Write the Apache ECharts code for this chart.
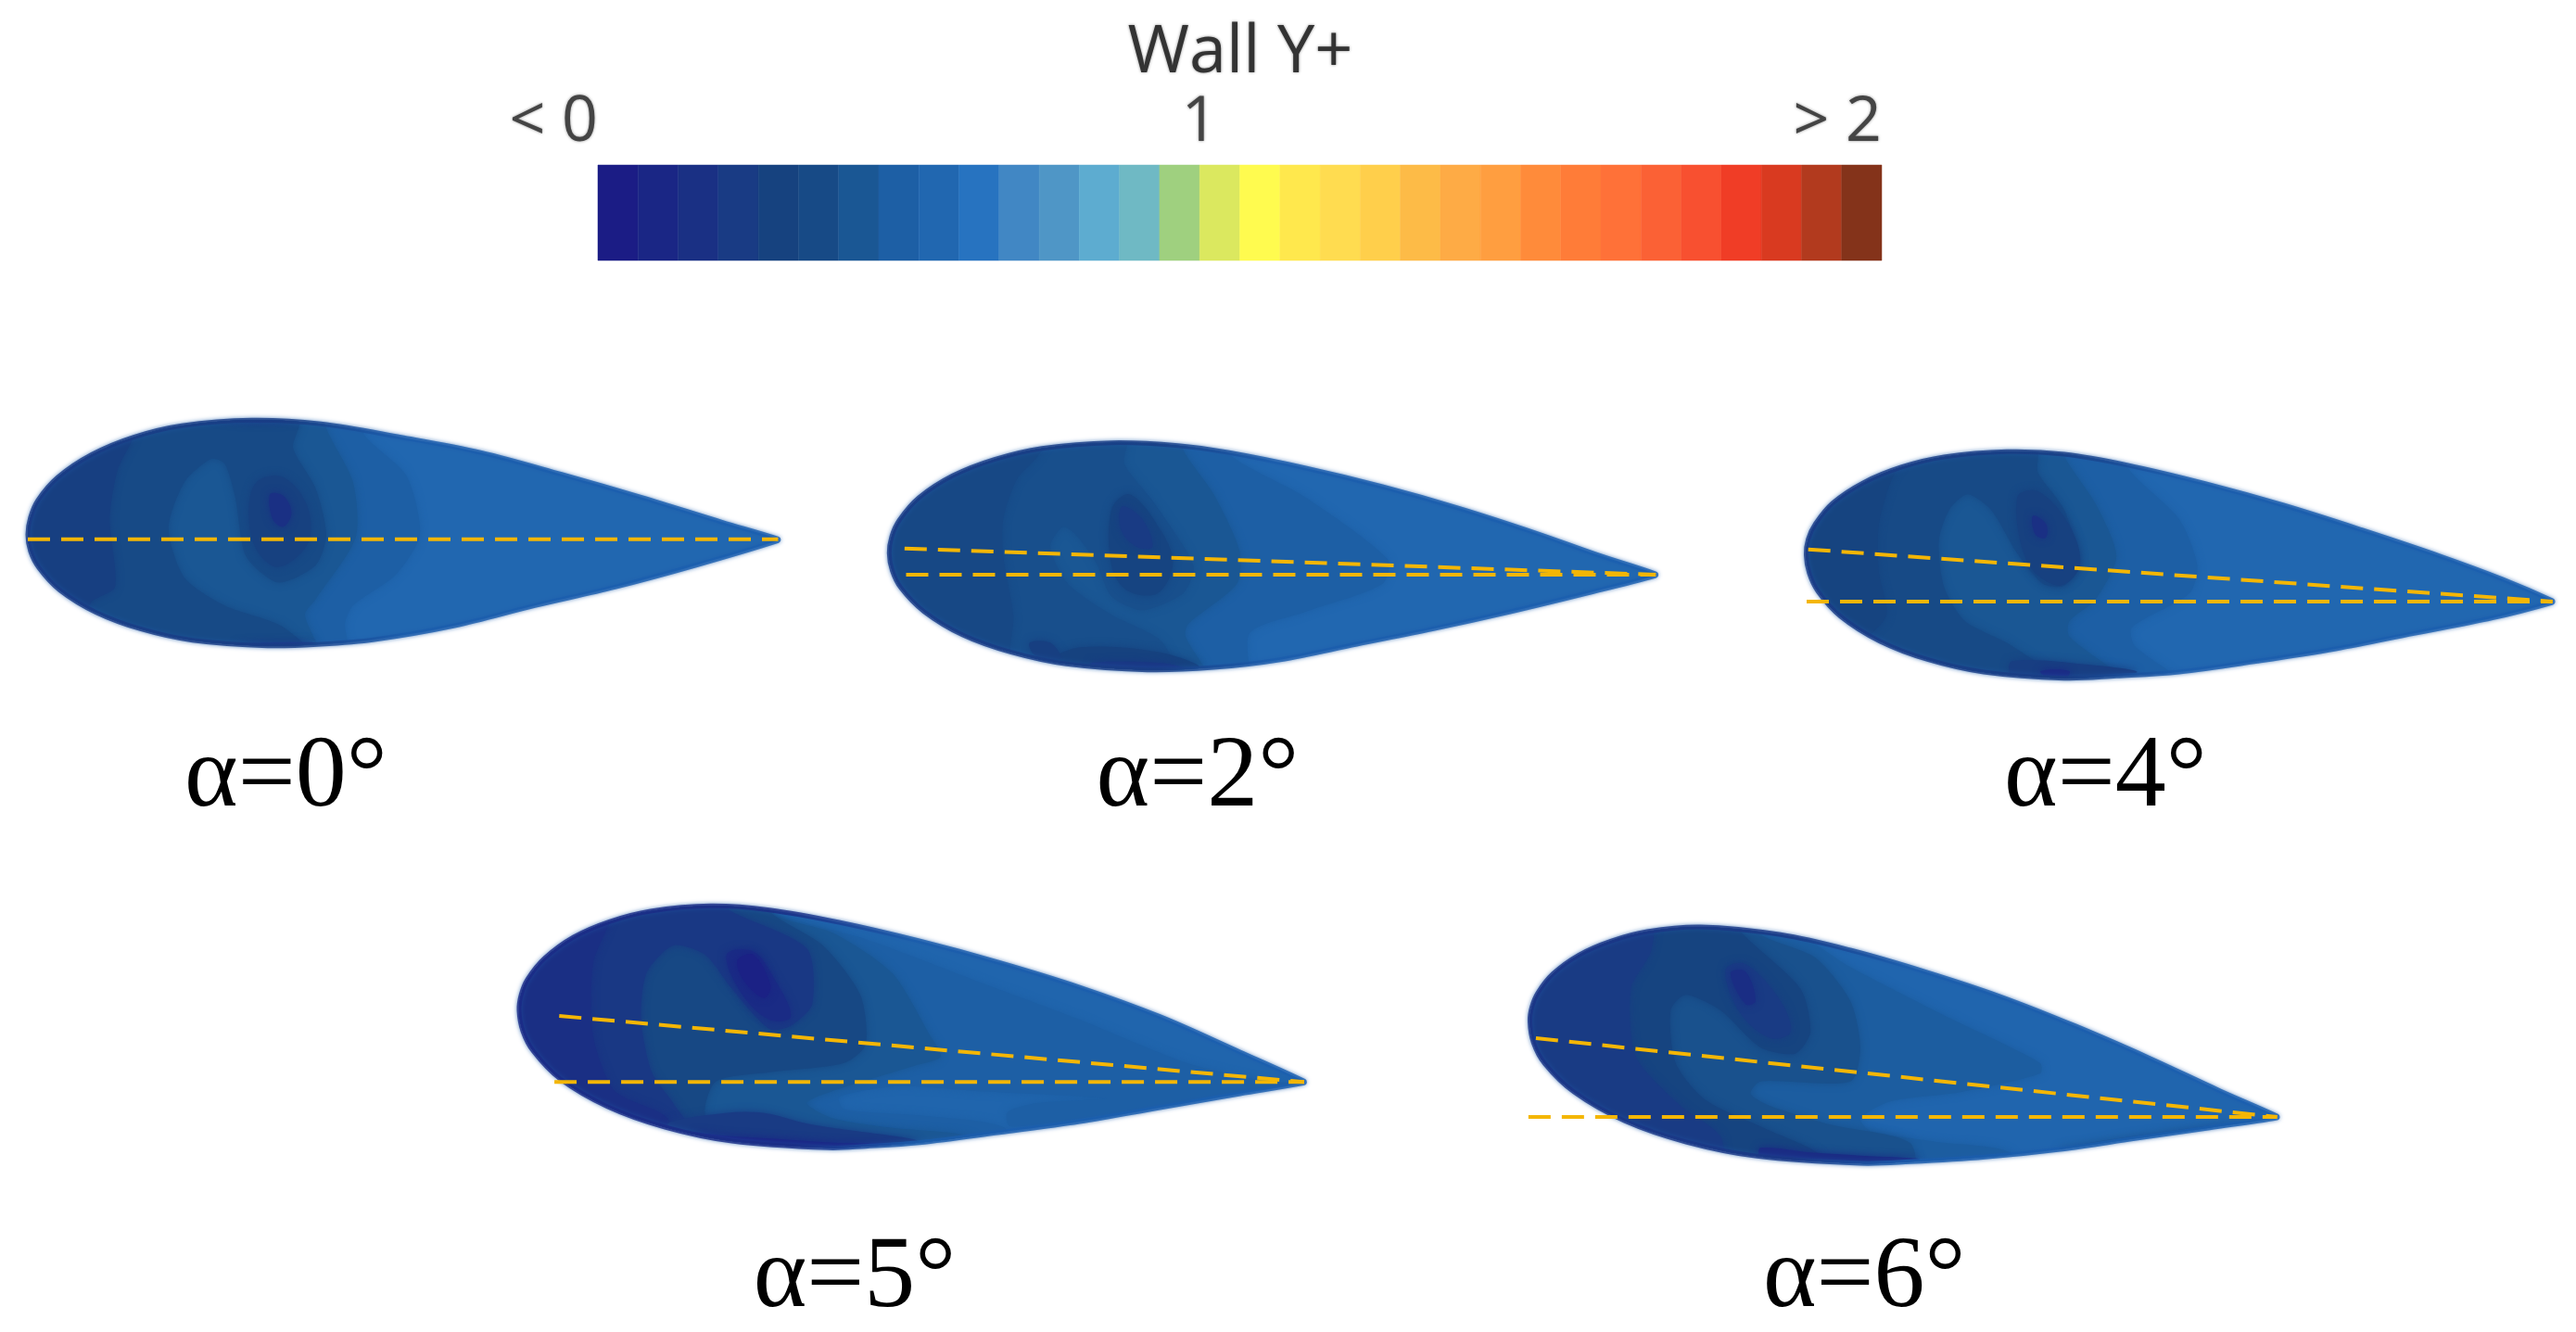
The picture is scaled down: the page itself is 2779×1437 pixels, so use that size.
<!DOCTYPE html>
<html><head><meta charset="utf-8">
<style>html,body{margin:0;padding:0;background:#fff}#c{width:2779px;height:1437px}</style>
<script src="https://cdn.jsdelivr.net/npm/echarts@6/dist/echarts.min.js"></script>
</head><body><div id="c"></div>
<script>
// Wall Y+ colour scale: 32 discrete levels
const scaleColors=['#1b1c85','#1a2685','#1a3084','#193b84','#16427f','#174a86','#1a5794','#1d5fa5','#2167b0','#2773c0','#4187c4','#4f96c6','#5dacd0','#6fb9c4','#9fd07f','#dbe85f','#fffb4f','#ffe84d','#ffdc50','#ffcf4b','#fdbb47','#feab45','#ff9e40','#ff8b3a','#ff7c38','#ff7138','#fb6135','#f85030','#f03d26','#d93a20','#b23a1e','#84331a'];
const scaleTicks=[0,15,32];
const scaleTickLabels=['< 0','1','> 2'];
const scaleTitle='Wall Y+';

const angles=[0,2,4,5,6];

// Profile outlines, contour fronts (open towards the nose) and closed spots, read per panel
const outline0=[[52,470],[57,415],[71,359],[108,285],[172,211],[250,155],[340,118],[470,100],[600,112],[750,155],[900,205],[1050,275],[1200,350],[1350,430],[1455,484],[1455,490],[1300,570],[1150,640],[1000,700],[850,765],[700,810],[600,825],[500,830],[360,812],[264,776],[180,722],[112,650],[73,578],[57,524]];
const frontLevels0=[7,6,5,3.6];
const fronts0=[
[[680,60],[680,145],[760,280],[785,470],[740,600],[660,700],[645,760],[650,900]],
[[610,60],[610,125],[660,300],[665,480],[590,680],[570,730],[600,900]],
[[560,40],[560,115],[548,190],[590,320],[610,470],[590,570],[520,625],[460,540],[440,350],[420,240],[395,225],[345,300],[315,450],[345,610],[420,700],[530,770],[600,900]],
[[250,40],[250,150],[220,260],[205,420],[215,640],[170,690],[110,900]]];
const spotLevels0=[3.8,2,2.4,2.4];
const spots0=[
[[480,300],[530,285],[575,380],[575,500],[520,575],[480,520],[465,400]],
[[505,340],[530,345],[545,400],[530,445],[510,420]],
[[400,95],[480,92],[560,100],[480,108]],
[[440,825],[500,820],[590,820],[520,835]]];

const outline2=[[35,440],[40,386],[55,333],[93,261],[159,190],[241,137],[334,101],[470,83],[600,92],[700,115],[850,165],[1000,225],[1150,295],[1300,375],[1420,445],[1535,507],[1535,513],[1400,570],[1250,630],[1100,685],[950,735],[800,785],[670,810],[540,818],[382,799],[274,761],[179,705],[103,629],[58,553],[41,497]];
const frontLevels2=[7,6,5.4,4.8];
const fronts2=[
[[700,40],[700,120],[850,260],[1010,460],[1000,540],[850,630],[740,700],[730,900]],
[[610,40],[610,105],[670,250],[720,430],[715,540],[620,670],[615,710],[670,900]],
[[500,40],[495,150],[550,270],[630,480],[610,570],[530,625],[470,580],[440,470],[400,380],[375,355],[350,420],[385,540],[470,640],[570,730],[600,900]],
[[350,40],[326,125],[285,200],[258,330],[258,450],[278,645],[272,735],[260,900]]];
const spotLevels2=[4.3,3,4,2.6,3.6];
const spots2=[
[[470,300],[505,250],[560,350],[590,470],[560,570],[500,560],[470,480]],
[[490,290],[530,330],[550,420],[520,420],[490,370]],
[[410,745],[560,760],[640,810],[430,825],[350,790]],
[[430,795],[560,795],[610,812],[540,825],[440,815]],
[[310,730],[350,730],[370,780],[320,770]]];

const outline4=[[86,445],[90,395],[104,345],[137,278],[196,212],[268,162],[350,129],[470,112],[580,120],[700,155],[850,215],[1000,285],[1150,365],[1300,450],[1420,525],[1515,594],[1515,600],[1400,650],[1250,700],[1100,750],[950,790],[800,825],[680,838],[580,845],[426,825],[320,785],[227,725],[152,645],[109,565],[92,505]];
const frontLevels4=[7,6,5,4.2];
const fronts4=[
[[700,60],[700,160],[800,330],[835,480],[820,570],[710,680],[715,740],[830,900]],
[[580,60],[580,125],[640,280],[680,450],[640,590],[590,660],[590,710],[720,900]],
[[530,40],[530,125],[530,180],[580,300],[610,480],[580,545],[540,540],[490,440],[440,300],[395,250],[360,300],[340,400],[350,550],[390,660],[480,740],[600,900]],
[[300,40],[250,200],[225,350],[225,500],[240,640],[200,720],[100,900]]];
const spotLevels4=[3.8,2,3.4,1.5];
const spots4=[
[[490,260],[530,240],[590,350],[610,480],[570,545],[510,470]],
[[520,320],[545,345],[545,390],[525,380]],
[[480,790],[620,800],[720,825],[600,850],[480,835]],
[[535,822],[590,822],[580,850],[550,845]]];

const outline5=[[52,420],[56,369],[68,319],[100,251],[154,183],[221,133],[298,99],[410,82],[520,95],[650,135],[800,195],[950,265],[1100,345],[1250,440],[1400,555],[1520,649],[1520,655],[1400,690],[1250,735],[1100,780],[950,815],[800,848],[700,860],[630,865],[450,843],[325,798],[217,731],[129,642],[79,553],[59,487]];
const frontLevels5=[7,6,4.7,2.7,1.9];
const fronts5=[
[[520,40],[520,100],[700,190],[900,320],[1100,450],[1300,590],[1450,650],[1510,655],[1380,690],[1250,730],[1100,770],[970,795],[965,750],[1020,720],[1150,705],[900,680],[760,665],[650,700],[660,740],[800,760],[960,800],[960,900]],
[[530,40],[530,110],[640,170],[750,300],[820,500],[840,570],[790,600],[640,680],[590,720],[640,770],[750,800],[900,830],[900,900]],
[[520,40],[520,100],[620,210],[690,370],[700,530],[660,590],[520,620],[420,650],[400,760],[460,900]],
[[440,40],[440,90],[590,220],[600,400],[560,470],[520,480],[450,350],[400,240],[340,210],[290,300],[280,450],[300,620],[340,720],[400,900]],
[[230,40],[190,270],[190,500],[230,680],[330,770],[330,900]]];
const spotLevels5=[1.5,3,1,0.5];
const spots5=[
[[440,240],[490,230],[530,320],[560,440],[520,450],[470,370]],
[[400,760],[500,750],[600,790],[800,845],[640,870],[420,835],[330,790]],
[[380,815],[430,825],[520,835],[640,848],[760,852],[640,872],[520,862],[420,838]],
[[460,260],[490,240],[522,340],[510,380],[475,330]]];

const outline6=[[38,365],[42,319],[54,273],[84,212],[136,151],[200,106],[273,75],[380,60],[540,85],[680,135],[830,205],[980,285],[1130,380],[1280,485],[1420,590],[1535,672],[1535,678],[1400,710],[1250,745],[1100,780],[950,805],[800,820],[700,825],[493,802],[351,756],[227,687],[127,595],[68,503],[45,434]];
const frontLevels6=[6.7,5.5,4.2,3];
const fronts6=[
[[520,40],[680,190],[860,340],[1060,500],[1060,535],[900,595],[760,625],[700,680],[720,720],[850,755],[1000,790],[1000,900]],
[[500,40],[500,85],[610,160],[680,300],[700,450],[680,560],[500,560],[480,600],[520,640],[640,700],[800,760],[800,900]],
[[460,40],[460,75],[580,260],[600,400],[570,470],[500,450],[420,330],[350,280],[320,330],[330,500],[390,620],[520,720],[620,800],[620,900]],
[[280,40],[280,140],[240,260],[250,480],[340,640],[420,740],[420,900]]];
const spotLevels6=[3,1.7,1.6,5.8];
const spots6=[
[[430,200],[470,180],[540,300],[560,400],[520,420],[460,340]],
[[440,210],[470,205],[490,300],[470,310]],
[[500,775],[600,790],[700,800],[820,812],[700,835],[600,825],[500,805]],
[[1100,775],[1300,725],[1500,685],[1300,745],[1100,785]]];

// Chord reference lines (dashed): horizontal and rotated
const chordH=[[[52,485],[1455,485]],[[68,510],[1535,510]],[[87,597],[1515,597]],[[118,652],[1520,652]],[[35,675],[1535,675]]];
const chordU=[null,[[65,425],[1535,510]],[[90,428],[1515,597]],[[127,438],[1520,652]],[[50,420],[1535,675]]];
const labelAt=[[345,1335],[440,1245],[465,1245],[490,1365],[505,1275]];

const outlines=[outline0,outline2,outline4,outline5,outline6];
const frontSets=[fronts0,fronts2,fronts4,fronts5,fronts6];
const frontLevelSets=[frontLevels0,frontLevels2,frontLevels4,frontLevels5,frontLevels6];
const spotSets=[spots0,spots2,spots4,spots5,spots6];
const spotLevelSets=[spotLevels0,spotLevels2,spotLevels4,spotLevels5,spotLevels6];
const baseLevel=[8,8,8,7.7,7.8];
const rimLevel=[2.8,2.8,2.8,1.2,2.2];

// Layout: picture rectangle of each panel and its unit span
const layout=[
 {x:0,y:420,w:900,h:480,ux:1560,uy:1440},
 {x:940,y:450,w:860,h:450,ux:1560,uy:1350},
 {x:1900,y:450,w:879,h:450,ux:1560,uy:1350},
 {x:530,y:950,w:900,h:480,ux:1560,uy:1440},
 {x:1630,y:980,w:840,h:450,ux:1560,uy:1350}];

const SMOOTH=0.35;
const closeAround=[[-80,950],[-80,-20]];
function hex(c){return [1,3,5].map(i=>parseInt(c.substr(i,2),16));}
function levelColor(l){
  const a=Math.floor(l),t=l-a,p=hex(scaleColors[a]),q=hex(scaleColors[Math.min(a+1,31)]);
  return 'rgb('+p.map((v,i)=>Math.round(v+(q[i]-v)*t)).join(',')+')';
}
function baseSeries(idx,outline,level){
  return {type:'custom',xAxisIndex:idx,yAxisIndex:idx,z:2,silent:true,animation:false,clip:false,
    data:[outline[0]],
    renderItem:(params,api)=>{
      const c=levelColor(level);
      return {type:'polygon',shape:{points:outline.map(pt=>api.coord(pt)),smooth:SMOOTH},
        style:{fill:c,shadowColor:c,shadowBlur:5}};
    }};
}
function bandSeries(idx,outline,polys,levels,wrap,z){
  return {type:'custom',xAxisIndex:idx,yAxisIndex:idx,z:z,silent:true,animation:false,clip:false,
    data:polys.map(p=>p[0]),
    renderItem:(params,api)=>{
      const c=levelColor(levels[params.dataIndex]);
      const pts=polys[params.dataIndex].concat(wrap?closeAround:[]);
      return {type:'polygon',
        shape:{points:pts.map(pt=>api.coord(pt)),smooth:wrap?0.25:SMOOTH},
        clipPath:{type:'polygon',shape:{points:outline.map(pt=>api.coord(pt)),smooth:SMOOTH}},
        style:{fill:c,shadowColor:c,shadowBlur:9}};
    }};
}
function rimSeries(idx,outline,noseLevel){
  return {type:'custom',xAxisIndex:idx,yAxisIndex:idx,z:4,silent:true,animation:false,clip:false,
    data:[outline[0]],
    renderItem:(params,api)=>({type:'polygon',
      shape:{points:outline.map(pt=>api.coord(pt)),smooth:SMOOTH},
      style:{fill:'none',lineWidth:5,opacity:0.8,
        stroke:new echarts.graphic.LinearGradient(0,0,1,0,[
          {offset:0,color:levelColor(noseLevel)},{offset:0.35,color:levelColor(noseLevel+0.4)},
          {offset:0.5,color:'#1a5cac'},{offset:1,color:'#1a5fb0'}]),
        shadowColor:'rgba(30,90,170,0.6)',shadowBlur:5}})};
}
const grids=[],xAxes=[],yAxes=[],series=[];
layout.forEach((b,i)=>{
  grids.push({left:b.x,top:b.y,width:b.w,height:b.h});
  xAxes.push({type:'value',gridIndex:i,min:0,max:b.ux,show:false});
  yAxes.push({type:'value',gridIndex:i,min:0,max:b.uy,inverse:true,show:false});
  series.push(baseSeries(i,outlines[i],baseLevel[i]));
  series.push(bandSeries(i,outlines[i],frontSets[i],frontLevelSets[i],true,3));
  series.push(bandSeries(i,outlines[i],spotSets[i],spotLevelSets[i],false,3));
  series.push(rimSeries(i,outlines[i],rimLevel[i]));
  [chordH[i],chordU[i]].forEach(seg=>{ if(!seg) return;
    series.push({type:'line',xAxisIndex:i,yAxisIndex:i,z:5,silent:true,animation:false,clip:false,showSymbol:false,data:seg,
      lineStyle:{color:'#f4b605',width:4,type:[24,12],cap:'butt'}});
  });
});
// colour scale panel
const s=layout.length;
grids.push({left:645,top:178,width:1385,height:103});
xAxes.push({type:'value',gridIndex:s,min:0,max:scaleColors.length,position:'top',
  axisLine:{show:false},axisTick:{show:false},splitLine:{show:false},
  axisLabel:{show:true,customValues:scaleTicks,margin:11,alignMinLabel:'right',alignMaxLabel:'right',
    fontFamily:'Open Sans',fontSize:68,color:'#444',textShadowColor:'rgba(60,60,60,0.6)',textShadowBlur:3,
    formatter:v=>scaleTickLabels[scaleTicks.indexOf(v)]}});
yAxes.push({type:'value',gridIndex:s,min:0,max:1,show:false});
series.push({type:'custom',xAxisIndex:s,yAxisIndex:s,z:2,silent:true,animation:false,
  data:scaleColors.map((c,i)=>[i,i+1]),
  renderItem:(params,api)=>{
    const a=api.coord([api.value(0),1]),b=api.coord([api.value(1),0]);
    return {type:'rect',shape:{x:a[0],y:a[1],width:b[0]-a[0],height:b[1]-a[1]},
      style:{fill:scaleColors[params.dataIndex],stroke:scaleColors[params.dataIndex],lineWidth:0.5}};
  }});
const chart=echarts.init(document.getElementById('c'),null,{renderer:'canvas'});
chart.setOption({backgroundColor:'#fff',animation:false,
  title:{text:scaleTitle,left:1333,top:16,textAlign:'center',
    textStyle:{fontFamily:'Open Sans',fontWeight:'normal',fontSize:72,color:'#333',textShadowColor:'rgba(60,60,60,0.6)',textShadowBlur:3}},
  tooltip:{show:false},legend:{show:false},
  grid:grids,xAxis:xAxes,yAxis:yAxes,series:series});
// angle captions, anchored through each panel's axes
chart.setOption({graphic:angles.map((a,i)=>{
  const p=chart.convertToPixel({gridIndex:i},labelAt[i]);
  return {type:'text',x:p[0],y:p[1]-80,z:20,silent:true,
    style:{text:'α='+a+'°',fontFamily:'Liberation Serif',fontSize:110,fill:'#000'}};
})});
</script></body></html>
